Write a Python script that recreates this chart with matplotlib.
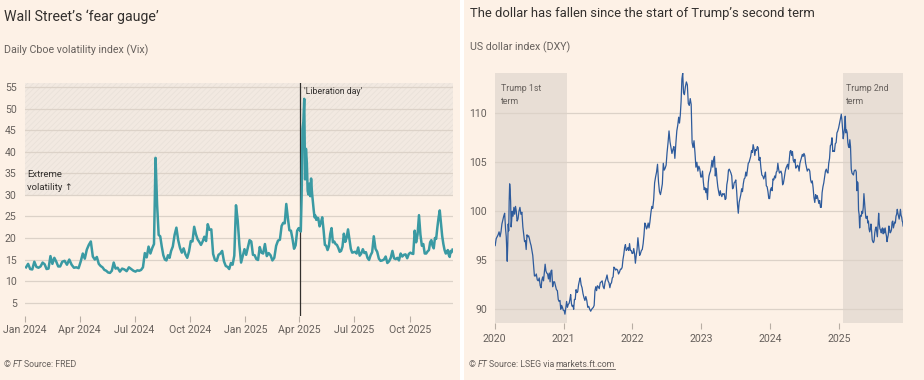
import matplotlib
matplotlib.use("Agg")
import matplotlib.pyplot as plt
from matplotlib.patches import Rectangle
from matplotlib.lines import Line2D
import pandas as pd

plt.rcParams['font.family'] = ['Roboto', 'DejaVu Sans']
plt.rcParams['hatch.linewidth'] = 0.5

PEACH = '#FDF1E6'
INK = '#33302E'
GREY = '#66605C'
GRID = '#DCD2C8'
TEAL = '#3A9AA3'
BLUE = '#2E5B9C'

# ---- left chart: Vix, one inner list per month (Jan 2024 .. Dec 2025) ----
vix_start = "2024-01"
vix_end = "2025-12-12"
vix_2024 = [
    [13.2, 14.0, 12.8, 12.7, 14.5, 13.3, 13.1, 13.4, 14.3],
    [13.9, 12.8, 12.9, 15.8, 14.0, 15.4, 14.5, 13.4, 13.4],
    [14.5, 14.7, 13.8, 15.0, 13.8, 13.1, 13.2, 13.0],
    [14.6, 16.4, 15.2, 17.3, 18.4, 19.2, 15.7, 15.0, 15.6],
    [14.0, 13.5, 13.2, 12.6, 12.4, 12.0, 11.9, 12.4, 14.3, 12.9],
    [13.1, 12.2, 12.9, 12.7, 12.3, 13.2, 12.8, 12.4],
    [12.2, 12.5, 12.4, 12.6, 13.2, 16.5, 15.5, 18.0, 16.4, 17.7],
    [18.6, 38.6, 27.7, 20.7, 20.4, 18.0, 16.0, 15.0, 14.8, 16.0, 15.4, 17.0],
    [18.0, 20.7, 22.4, 19.5, 17.7, 16.6, 17.6, 16.2, 15.4, 16.9],
    [19.3, 19.2, 22.6, 20.9, 19.7, 19.1, 18.4, 19.2, 20.3, 19.3, 23.2],
    [21.9, 22.0, 16.3, 14.9, 14.7, 16.1, 16.4, 17.0, 14.6, 13.5],
    [13.3, 12.8, 14.2, 13.8, 15.9, 27.6, 24.1, 18.4, 14.3, 15.9, 17.4],
]
vix_2025 = [
    [16.1, 17.8, 19.5, 19.2, 16.1, 16.0, 15.1, 14.9, 17.9, 16.6, 16.4],
    [18.6, 15.8, 16.5, 16.0, 14.8, 15.4, 18.2, 19.4, 19.6],
    [22.8, 23.5, 23.4, 27.9, 24.7, 21.8, 21.7, 19.8, 17.5, 18.3, 21.7, 22.3],
    [21.8, 21.5, 30.0, 45.3, 47.0, 52.3, 33.6, 40.7, 37.6, 30.9, 30.1,
     32.6, 29.7, 33.8, 30.6, 28.5, 26.5, 24.8, 25.2, 24.2, 24.7],
    [24.6, 22.7, 23.6, 24.8, 21.9, 18.4, 18.2, 17.2, 18.1, 20.9, 22.3, 19.0, 19.2, 18.6],
    [18.4, 17.7, 16.8, 17.0, 18.0, 21.0, 19.1, 20.1, 22.0, 19.8, 17.5, 16.6, 16.7],
    [16.8, 16.4, 17.8, 15.9, 16.4, 17.4, 16.5, 16.7, 15.4, 14.9, 16.0, 16.7],
    [20.4, 17.5, 16.8, 15.2, 14.7, 14.8, 15.0, 15.7, 14.2, 14.6, 15.4],
    [17.0, 15.3, 15.1, 15.4, 14.8, 16.4, 15.7, 16.1, 16.2, 15.3, 16.3],
    [16.6, 16.4, 16.3, 21.7, 19.0, 20.8, 25.3, 20.8, 18.2, 18.6, 16.4, 16.4, 16.9],
    [17.2, 19.0, 19.5, 18.2, 17.6, 20.0, 19.8, 22.4, 24.7, 26.4, 23.4, 20.5, 18.6, 17.2, 16.4],
    [16.6, 17.2, 16.1, 15.6, 17.0, 16.7, 17.3],
]
vix_ticks = ["Jan 2024", "Apr 2024", "Jul 2024", "Oct 2024",
             "Jan 2025", "Apr 2025", "Jul 2025", "Oct 2025"]
vix_yticks = [5, 10, 15, 20, 25, 30, 35, 40, 45, 50, 55]
extreme_level = 30
liberation_day = "2025-04-02"

# ---- right chart: DXY, one inner list per month (Jan 2020 .. Dec 2025) ----
dxy_start = "2020-01"
dxy_end = "2025-12-08"
dxy_2020 = [
    [96.5, 97.2, 97.4, 97.6, 97.9, 97.4],
    [97.9, 98.7, 99.1, 99.5, 99.8, 98.2],
    [97.4, 96.0, 94.9, 96.5, 98.7, 98.0, 101.0, 102.8, 102.2, 101.0, 98.4, 99.0],
    [100.0, 99.5, 100.4, 99.7, 100.5, 100.0, 99.0],
    [99.2, 100.0, 100.4, 99.7, 99.9, 98.4],
    [97.6, 96.9, 97.0, 96.1, 97.6, 97.4, 97.5],
    [97.2, 96.8, 96.5, 96.0, 95.5, 94.4, 93.4],
    [93.4, 93.6, 93.0, 92.9, 93.2, 92.4],
    [92.2, 93.0, 93.3, 92.9, 93.7, 94.6, 93.9],
    [93.7, 93.6, 93.1, 93.7, 92.8, 93.9, 94.0],
    [92.3, 92.8, 92.8, 92.4, 92.0, 91.9],
    [91.0, 90.8, 90.9, 90.0, 90.4, 90.2, 89.9],
]
dxy_2021 = [
    [89.9, 89.5, 90.1, 90.8, 90.2, 90.5, 90.6],
    [91.0, 91.5, 90.6, 90.3, 90.4, 90.0, 91.0],
    [91.0, 92.0, 91.7, 91.8, 92.5, 92.9, 93.2],
    [92.5, 92.2, 91.6, 91.2, 90.9, 91.3],
    [90.9, 90.2, 90.3, 90.0, 89.8, 90.0],
    [90.1, 90.2, 90.4, 91.9, 92.3, 91.9, 92.4],
    [92.3, 92.1, 92.7, 92.8, 92.9, 92.3],
    [92.1, 92.8, 93.1, 93.5, 92.9, 92.7],
    [92.2, 92.6, 92.7, 93.2, 93.3, 94.3, 94.2],
    [94.0, 94.1, 94.0, 93.6, 93.8, 94.1],
    [94.1, 94.3, 95.1, 95.6, 96.3, 96.6, 96.0],
    [96.1, 96.3, 96.0, 96.7, 96.0, 96.0, 95.7],
]
dxy_2022 = [
    [95.7, 96.2, 95.7, 94.7, 95.5, 96.1, 97.3],
    [96.4, 95.5, 95.7, 96.0, 96.1, 96.7],
    [97.6, 98.8, 98.6, 98.2, 98.4, 98.8, 98.3],
    [98.9, 99.8, 100.5, 100.3, 101.2, 102.9],
    [103.5, 104.0, 104.8, 103.0, 102.0, 101.7],
    [102.2, 102.8, 104.9, 104.2, 104.4, 104.7],
    [106.0, 107.0, 108.2, 107.1, 106.5, 105.9],
    [106.3, 106.6, 105.4, 106.9, 108.2, 108.8],
    [109.6, 109.0, 109.8, 111.2, 113.5, 114.1, 112.1],
    [111.9, 112.7, 113.2, 112.9, 111.0, 110.8],
    [111.5, 110.9, 107.0, 106.5, 107.2, 106.0],
    [104.5, 105.0, 104.1, 104.6, 104.3, 103.5],
]
dxy_2023 = [
    [103.5, 104.1, 103.0, 102.2, 102.4, 101.9, 102.3],
    [101.2, 102.9, 103.6, 103.9, 104.1, 104.6, 105.2],
    [104.5, 105.3, 105.6, 103.6, 104.4, 103.3, 102.5],
    [102.0, 101.6, 102.1, 101.7, 101.5, 101.8, 101.7],
    [101.8, 101.2, 101.3, 102.7, 103.2, 104.2, 104.3],
    [104.1, 103.9, 103.6, 102.3, 102.4, 102.9, 103.0],
    [103.2, 102.1, 100.7, 99.8, 100.9, 101.3, 101.7],
    [102.3, 102.0, 102.8, 103.3, 103.4, 104.0, 103.6],
    [104.3, 104.9, 105.0, 105.3, 105.6, 106.2, 106.0],
    [106.8, 106.4, 105.7, 106.3, 106.2, 106.6, 106.5],
    [105.2, 105.5, 104.4, 103.7, 103.6, 103.3],
    [103.6, 104.0, 102.6, 102.5, 102.0, 101.3, 101.3],
]
dxy_2024 = [
    [102.2, 102.4, 102.1, 103.3, 103.2, 103.6, 103.4],
    [104.0, 104.1, 104.9, 104.3, 103.9, 104.0, 104.1],
    [103.8, 102.7, 102.9, 103.4, 104.0, 104.4, 104.6],
    [104.8, 104.3, 105.2, 106.1, 106.2, 105.7, 106.1],
    [105.2, 105.0, 105.3, 104.4, 104.5, 104.7, 104.6],
    [104.1, 104.9, 105.2, 105.5, 105.8, 105.6, 105.9],
    [105.7, 104.9, 104.5, 104.1, 104.3, 104.3, 104.1],
    [103.2, 102.9, 103.1, 102.4, 101.4, 100.9, 101.7],
    [101.3, 101.6, 101.2, 100.8, 101.1, 100.4, 100.4],
    [101.9, 102.5, 102.9, 103.5, 104.1, 104.3, 104.0],
    [103.9, 104.9, 105.4, 106.7, 106.8, 107.5, 106.1],
    [106.2, 106.1, 106.9, 107.0, 108.0, 108.2, 108.5],
]
dxy_2025 = [
    [108.9, 109.2, 109.6, 109.9, 109.3, 108.3, 107.4, 108.0, 108.4],
    [109.7, 108.0, 108.3, 108.0, 107.0, 106.6, 106.5, 107.3],
    [106.6, 104.3, 103.9, 103.8, 103.7, 104.1, 104.2, 104.2],
    [104.0, 102.1, 103.0, 102.9, 100.1, 99.7, 98.3, 99.4, 99.6, 99.5],
    [100.0, 99.8, 100.4, 101.8, 100.9, 100.0, 99.3, 99.3, 99.5],
    [98.8, 99.0, 98.2, 97.9, 98.2, 98.7, 98.0, 97.1, 96.9],
    [96.8, 97.0, 97.8, 98.2, 98.4, 97.9, 97.4, 98.6, 99.8],
    [98.7, 98.2, 98.1, 97.8, 98.2, 98.3, 97.7, 98.2, 97.8],
    [98.3, 97.8, 97.5, 96.9, 97.3, 97.6, 98.5, 98.2, 97.8],
    [97.9, 98.1, 98.9, 99.0, 98.3, 98.6, 98.9, 98.8, 99.5],
    [99.7, 100.2, 99.8, 99.5, 99.2, 99.6, 100.2, 99.6, 99.4],
    [99.0, 98.9, 98.5],
]
dxy_ticks = ["2020", "2021", "2022", "2023", "2024", "2025"]
dxy_yticks = [90, 95, 100, 105, 110]
term1 = ("2020-01-01", "2021-01-20")
term2 = ("2025-01-20", dxy_end)


def month_series(start, blocks, end):
    # spread each month's readings evenly across that month
    months = pd.period_range(start, periods=len(blocks), freq="M")
    dates, vals = [], []
    for k, (m, block) in enumerate(zip(months, blocks)):
        t0 = m.start_time
        t1 = pd.Timestamp(end) if k == len(blocks) - 1 else (m + 1).start_time
        for i, v in enumerate(block):
            dates.append(t0 + (t1 - t0) * (i + 0.5) / len(block))
            vals.append(v)
    return dates, vals


vix_t, vix_v = month_series(vix_start, vix_2024 + vix_2025, vix_end)
dxy_t, dxy_v = month_series(dxy_start, dxy_2020 + dxy_2021 + dxy_2022 + dxy_2023
                            + dxy_2024 + dxy_2025, dxy_end)

W, H = 924, 380
fig = plt.figure(figsize=(W / 100, H / 100), dpi=100, facecolor="white")
fig.add_artist(Rectangle((0, 0), 460 / W, 1, transform=fig.transFigure,
                         facecolor=PEACH, edgecolor="none", zorder=-5))
fig.add_artist(Rectangle((464 / W, 0), 460 / W, 1, transform=fig.transFigure,
                         facecolor=PEACH, edgecolor="none", zorder=-5))


def style(ax):
    ax.set_facecolor(PEACH)
    for s in ax.spines.values():
        s.set_visible(False)
    ax.set_axisbelow(True)
    ax.grid(axis="y", color=GRID, lw=0.9)
    ax.tick_params(axis="y", length=0, labelsize=7.6, labelcolor=GREY)
    ax.tick_params(axis="x", length=4, width=0.8, color="#B8AEA4",
                   labelsize=7.6, labelcolor=GREY)


# left panel
ax1 = fig.add_axes([25 / W, 1 - 316 / H, 428 / W, (316 - 83.3) / H])
style(ax1)
ax1.axhspan(extreme_level, 56, facecolor="#F2E9E1", edgecolor="#E8E0D8",
            hatch="//////", lw=0, zorder=0.2)
ax1.plot(vix_t, vix_v, color=TEAL, lw=1.8, zorder=3, solid_joinstyle="round")
ax1.axvline(pd.Timestamp(liberation_day), color=INK, lw=0.9, zorder=2)
ax1.set_ylim(1.9, 55.9)
ax1.set_xlim(pd.Timestamp("2024-01-01"), pd.Timestamp(vix_end))
ax1.set_yticks(vix_yticks)
ax1.set_xticks(pd.date_range("2024-01-01", "2025-10-01", freq="QS"))
ax1.set_xticklabels(vix_ticks)
ax1.tick_params(axis="y", pad=6)
ax1.tick_params(axis="x", pad=2.5)
ax1.text(pd.Timestamp("2024-01-04"), 35.7, "Extreme\nvolatility ↑", fontsize=6.8,
         color=INK, va="top", linespacing=1.5)
ax1.text(pd.Timestamp("2025-04-09"), 54.0, "'Liberation day'", fontsize=6.3,
         color=INK, va="center")

# right panel
ax2 = fig.add_axes([494.7 / W, 1 - 322.7 / H, 408.6 / W, 249.4 / H])
style(ax2)
for a, b in (term1, term2):
    ax2.axvspan(pd.Timestamp(a), pd.Timestamp(b), facecolor="#E8DED5",
                edgecolor="none", zorder=0.2)
ax2.plot(dxy_t, dxy_v, color=BLUE, lw=0.9, zorder=3)
ax2.set_ylim(88.63, 114.08)
ax2.set_xlim(pd.Timestamp("2020-01-01"), pd.Timestamp(dxy_end))
ax2.set_yticks(dxy_yticks)
ax2.set_xticks(pd.date_range("2020-01-01", "2025-01-01", freq="YS"))
ax2.set_xticklabels(dxy_ticks)
ax2.tick_params(axis="y", pad=5.5)
ax2.tick_params(axis="x", pad=4)
ax2.text(pd.Timestamp("2020-02-01"), 113.0, "Trump 1st\nterm", fontsize=6.3,
         color=GREY, va="top", linespacing=1.6)
ax2.text(pd.Timestamp("2025-02-05"), 113.0, "Trump 2nd\nterm", fontsize=6.3,
         color=GREY, va="top", linespacing=1.6)

# titles
fig.text(4 / W, 1 - 21 / H, "Wall Street’s ‘fear gauge’", fontsize=10.2,
         color=INK, va="baseline")
fig.text(4 / W, 1 - 53 / H, "Daily Cboe volatility index (Vix)", fontsize=7.7,
         color=GREY, va="baseline")
fig.text(470 / W, 1 - 17 / H, "The dollar has fallen since the start of Trump’s second term",
         fontsize=9.4, color=INK, va="baseline")
fig.text(470 / W, 1 - 50 / H, "US dollar index (DXY)", fontsize=7.7,
         color=GREY, va="baseline")


# source lines, pieces set one after another
def chain(x, y, pieces):
    r = fig.canvas.get_renderer()
    for s, style_, under in pieces:
        t = fig.text(x / W, 1 - y / H, s, fontsize=6.3, color=GREY,
                     style=style_, va="baseline")
        bb = t.get_window_extent(r)
        if under:
            fig.add_artist(Line2D([bb.x0 / W, bb.x1 / W], [(H - y - 1.5) / H] * 2,
                                  transform=fig.transFigure, color=GREY, lw=0.6))
        x = bb.x1 + 1.5


chain(4, 367, [("©", "normal", False), ("FT", "italic", False),
               ("Source: FRED", "normal", False)])
chain(469, 367, [("©", "normal", False), ("FT", "italic", False),
                 ("Source: LSEG via", "normal", False),
                 ("markets.ft.com", "normal", True)])

fig.savefig("out.png", dpi=100, facecolor=fig.get_facecolor())
